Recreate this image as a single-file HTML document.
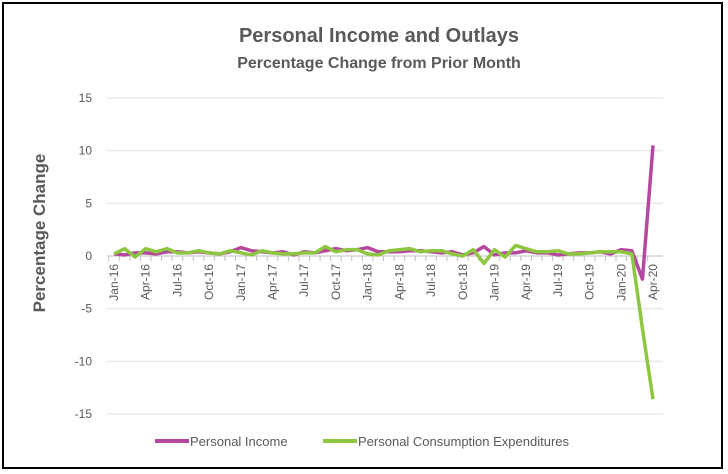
<!DOCTYPE html>
<html><head><meta charset="utf-8"><style>
body{margin:0;background:#fff;}
svg{display:block;font-family:"Liberation Sans",sans-serif;}
</style></head><body>
<svg width="728" height="474" xmlns="http://www.w3.org/2000/svg">
<rect x="3" y="3" width="719" height="465" fill="#fff" stroke="#000" stroke-width="2"/>
<text x="379" y="42" text-anchor="middle" font-size="20" font-weight="bold" fill="#595959">Personal Income and Outlays</text>
<text x="379" y="68" text-anchor="middle" font-size="16" font-weight="bold" fill="#595959">Percentage Change from Prior Month</text>
<text transform="translate(45,233) rotate(-90)" text-anchor="middle" font-size="17" font-weight="bold" fill="#595959">Percentage Change</text>
<g id="grid"></g><g id="xlabels"></g><g id="series"></g>
<g>
<line x1="155" y1="441" x2="189" y2="441" stroke="#B5479E" stroke-width="4"/>
<text x="190" y="446" font-size="13" fill="#595959">Personal Income</text>
<line x1="323" y1="441" x2="357" y2="441" stroke="#8DC63F" stroke-width="4"/>
<text x="358" y="446" font-size="13" fill="#595959">Personal Consumption Expenditures</text>
</g>
</svg>
<script>
const yTicks=[15,10,5,0,-5,-10,-15];
const monthNames=["Jan","Feb","Mar","Apr","May","Jun","Jul","Aug","Sep","Oct","Nov","Dec"];
const income=[0.2,0.1,0.3,0.3,0.2,0.4,0.4,0.3,0.4,0.3,0.2,0.4,
0.8,0.5,0.4,0.3,0.4,0.1,0.4,0.3,0.5,0.7,0.5,0.6,
0.8,0.4,0.4,0.4,0.5,0.5,0.4,0.3,0.4,0.1,0.3,0.9,
0.1,0.3,0.3,0.5,0.3,0.3,0.1,0.2,0.3,0.3,0.4,0.2,
0.6,0.5,-2.2,10.5];
const pce=[0.2,0.7,-0.1,0.7,0.4,0.7,0.3,0.3,0.5,0.3,0.2,0.5,
0.3,0.1,0.5,0.3,0.2,0.2,0.3,0.3,0.9,0.4,0.6,0.6,
0.2,0.1,0.5,0.6,0.7,0.4,0.5,0.5,0.2,0.0,0.6,-0.7,
0.6,-0.1,1.0,0.7,0.4,0.4,0.5,0.2,0.2,0.3,0.4,0.4,
0.4,0.2,-6.9,-13.6];
const NS="http://www.w3.org/2000/svg";
const x0=114,x1=653,y0=256,pxPerUnit=10.53;
const n=income.length;
const xs=i=>x0+(x1-x0)*i/(n-1);
const ys=v=>y0-v*pxPerUnit;
const grid=document.getElementById('grid');
yTicks.forEach(t=>{
 const l=document.createElementNS(NS,'line');
 
 
 l.setAttribute('x1',107);l.setAttribute('x2',663);l.setAttribute('y1',ys(t));l.setAttribute('y2',ys(t));
 l.setAttribute('stroke',t===0?'#bfbfbf':'#e0e0e0');l.setAttribute('stroke-width',1);
 grid.appendChild(l);
 const tx=document.createElementNS(NS,'text');
 
 
 tx.setAttribute('x',92);tx.setAttribute('y',ys(t)+4);tx.setAttribute('text-anchor','end');
 tx.setAttribute('font-size',12);tx.setAttribute('fill','#595959');tx.textContent=t;
 grid.appendChild(tx);
});
const xl=document.getElementById('xlabels');
for(let i=0;i<n;i++){
 const tk=document.createElementNS(NS,'line');
 
 
 tk.setAttribute('x1',xs(i)-5.3);tk.setAttribute('x2',xs(i)-5.3);tk.setAttribute('y1',256);tk.setAttribute('y2',261);
 tk.setAttribute('stroke','#bfbfbf');xl.appendChild(tk);
 if(i%3===0){
  const lab=monthNames[i%12]+"-"+(16+Math.floor(i/12));
  const t=document.createElementNS(NS,'text');
  
  
  t.setAttribute('transform','translate('+(xs(i)+4)+',264) rotate(-90)');
  t.setAttribute('text-anchor','end');t.setAttribute('font-size',12);t.setAttribute('fill','#595959');
  t.textContent=lab;xl.appendChild(t);
 }
}
const sg=document.getElementById('series');
function draw(arr,color,name){
 const p=document.createElementNS(NS,'polyline');
 
 
 p.setAttribute('points',arr.map((v,i)=>xs(i)+','+ys(v)).join(' '));
 p.setAttribute('fill','none');p.setAttribute('stroke',color);p.setAttribute('stroke-width',3.5);
 p.setAttribute('stroke-linejoin','round');
 sg.appendChild(p);
}
draw(income,'#B5479E','income-line');
draw(pce,'#8DC63F','pce-line');
</script>
</body></html>
